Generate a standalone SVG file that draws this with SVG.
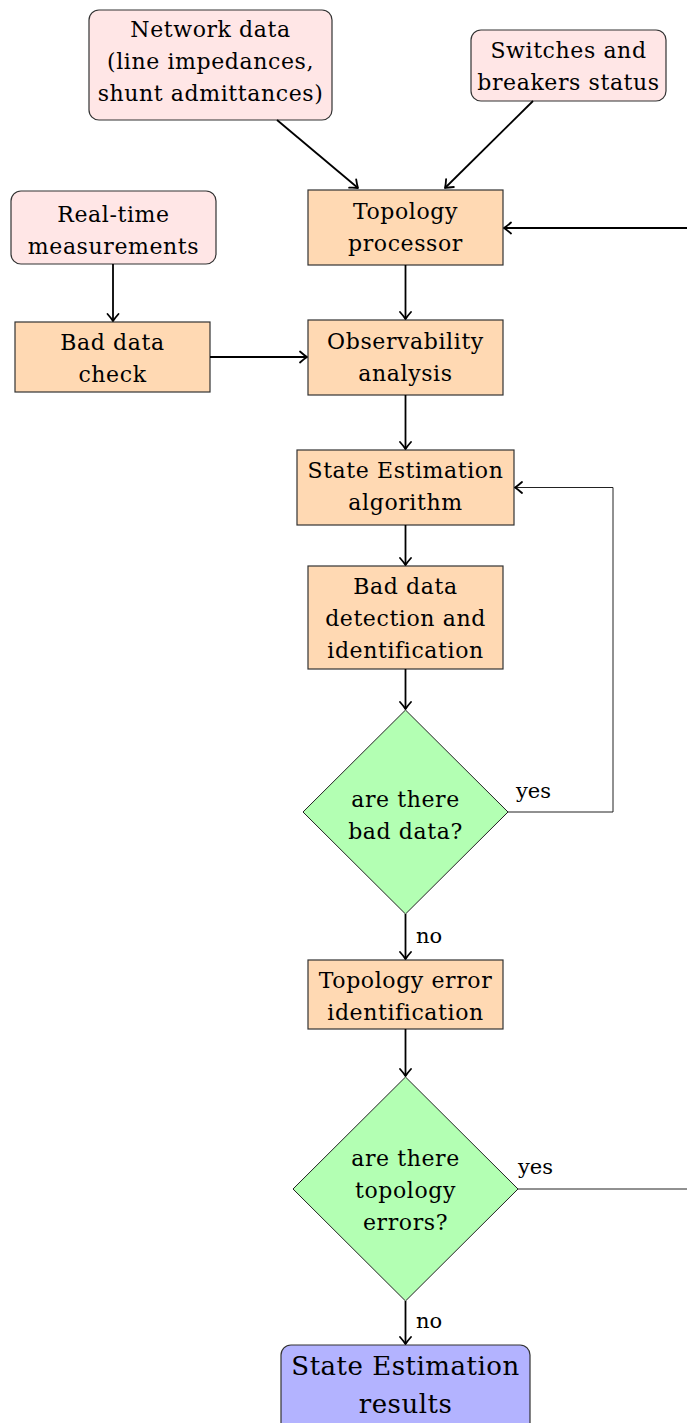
<svg xmlns="http://www.w3.org/2000/svg" width="687" height="1423" viewBox="0 0 687 1423">
<style>
text{font-family:"DejaVu Serif","Liberation Serif",serif;font-size:22px;fill:#000;text-anchor:middle;letter-spacing:0.6px}
.lbl{text-anchor:start;font-size:21px;letter-spacing:0}
.big{font-size:26px;letter-spacing:0.5px}
.in{fill:#FFE6E6;stroke:#333;stroke-width:1.2}
.pr{fill:#FFD9B3;stroke:#333;stroke-width:1.2}
.dec{fill:#B3FFB3;stroke:#222;stroke-width:1}
.out{fill:#B3B3FF;stroke:#333;stroke-width:1.2}
.arr{fill:none;stroke:#000;stroke-width:1.8;marker-end:url(#ah)}
.thin{fill:none;stroke:#222;stroke-width:1}
</style>
<defs>
<marker id="ah" viewBox="-9 -7 11 14" markerWidth="11" markerHeight="14" refX="0" refY="0" orient="auto" markerUnits="userSpaceOnUse">
<path d="M-7,-5.5 Q-2.5,-1.5 0,0 Q-2.5,1.5 -7,5.5" fill="none" stroke="#000" stroke-width="1.8" stroke-linecap="round" stroke-linejoin="round"/>
</marker>
</defs>
<g id="n-network"><rect class="in" x="89" y="10" width="243" height="110" rx="10"/><text x="210.5" y="37">Network data</text><text x="210.5" y="69">(line impedances,</text><text x="210.5" y="101">shunt admittances)</text></g>
<g id="n-switches"><rect class="in" x="471" y="30" width="195" height="71" rx="10"/><text x="568.5" y="58">Switches and</text><text x="568.5" y="90">breakers status</text></g>
<g id="n-realtime"><rect class="in" x="11" y="191" width="205" height="73" rx="10"/><text x="113.5" y="222">Real-time</text><text x="113.5" y="254">measurements</text></g>
<g id="n-topology"><rect class="pr" x="308" y="190" width="195" height="75"/><text x="405.5" y="219">Topology</text><text x="405.5" y="251">processor</text></g>
<g id="n-baddatacheck"><rect class="pr" x="15" y="322" width="195" height="70"/><text x="112.5" y="350">Bad data</text><text x="112.5" y="382">check</text></g>
<g id="n-observ"><rect class="pr" x="308" y="320" width="195" height="75"/><text x="405.5" y="349">Observability</text><text x="405.5" y="381">analysis</text></g>
<g id="n-sealg"><rect class="pr" x="297" y="450" width="217" height="75"/><text x="405.5" y="478">State Estimation</text><text x="405.5" y="510">algorithm</text></g>
<g id="n-baddet"><rect class="pr" x="308" y="566" width="195" height="103"/><text x="405.5" y="594">Bad data</text><text x="405.5" y="626">detection and</text><text x="405.5" y="658">identification</text></g>
<g id="n-dec1"><polygon class="dec" points="405.5,710 508,812 405.5,914 303,812"/><text x="405.5" y="807">are there</text><text x="405.5" y="839">bad data?</text></g>
<g id="n-toperr"><rect class="pr" x="308" y="960" width="195" height="69"/><text x="405.5" y="988">Topology error</text><text x="405.5" y="1020">identification</text></g>
<g id="n-dec2"><polygon class="dec" points="405.5,1077 518,1189 405.5,1301 293,1189"/><text x="405.5" y="1166">are there</text><text x="405.5" y="1198">topology</text><text x="405.5" y="1230">errors?</text></g>
<g id="n-results"><rect class="out" x="281" y="1345" width="249" height="90" rx="10"/><text class="big" x="405.5" y="1375">State Estimation</text><text class="big" x="405.5" y="1413">results</text></g>
<g id="connectors">
<line class="arr" x1="277" y1="120" x2="358" y2="188"/>
<line class="arr" x1="533" y1="101" x2="445" y2="188"/>
<line class="arr" x1="113" y1="264" x2="113" y2="321"/>
<line class="arr" x1="210" y1="357" x2="307" y2="357"/>
<line class="arr" x1="405.5" y1="265" x2="405.5" y2="319"/>
<line class="arr" x1="405.5" y1="395" x2="405.5" y2="449"/>
<line class="arr" x1="405.5" y1="525" x2="405.5" y2="565"/>
<line class="arr" x1="405.5" y1="669" x2="405.5" y2="709"/>
<line class="arr" x1="405.5" y1="914" x2="405.5" y2="959"/>
<line class="arr" x1="405.5" y1="1029" x2="405.5" y2="1076"/>
<line class="arr" x1="405.5" y1="1301" x2="405.5" y2="1344"/>
<line class="arr" x1="687" y1="228" x2="504" y2="228"/>
<polyline class="thin" points="508,812 613,812 613,487.5 515,487.5" marker-end="url(#ah)"/>
<line class="thin" x1="518" y1="1189" x2="687" y2="1189"/>
<text class="lbl" x="516" y="798">yes</text>
<text class="lbl" x="416" y="943">no</text>
<text class="lbl" x="518" y="1174">yes</text>
<text class="lbl" x="416" y="1328">no</text>
</g>
</svg>
